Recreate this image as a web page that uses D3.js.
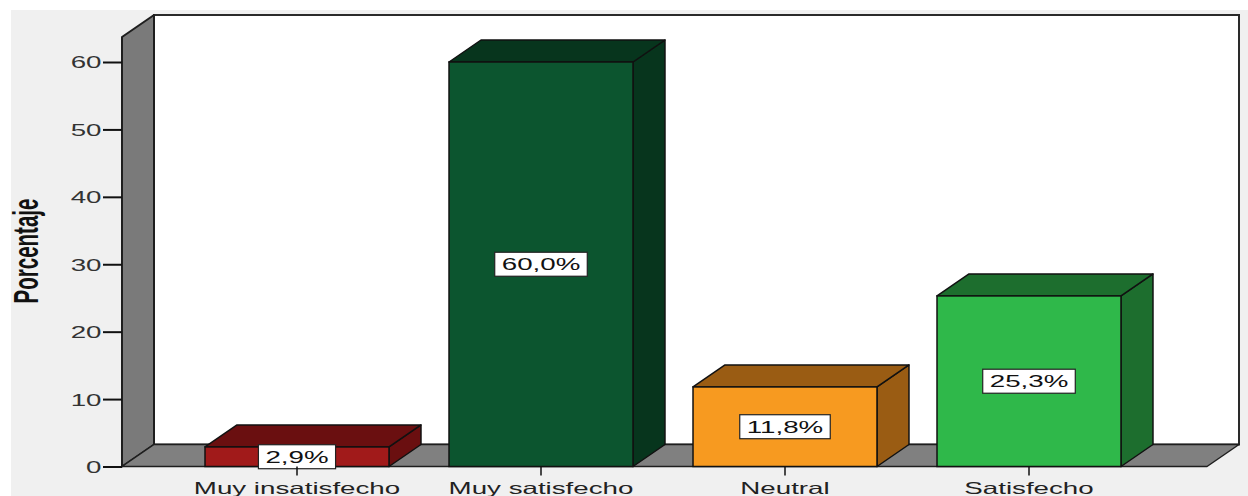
<!DOCTYPE html>
<html>
<head>
<meta charset="utf-8">
<script src="https://cdn.jsdelivr.net/npm/d3@7"></script>
<style>
html,body{margin:0;padding:0;background:#fff;}
svg{display:block;}
text{font-family:"Liberation Sans",Arial,sans-serif;}
</style>
</head>
<body>
<svg id="chart" width="1248" height="496"></svg>
<script>
const categories = ["Muy insatisfecho", "Muy satisfecho", "Neutral", "Satisfecho"];
const values = [2.9, 60.0, 11.8, 25.3];
const valueLabels = ["2,9%", "60,0%", "11,8%", "25,3%"];
const yTicks = [0, 10, 20, 30, 40, 50, 60];
const yTitle = "Porcentaje";
const frontColors = ["#a11a1a", "#0c552f", "#f79a20", "#2fb84a"];
const darkColors = ["#6a0f10", "#07351d", "#9a5c13", "#1d6e2e"];

const svg = d3.select("#chart");
const SX = 1.68;            // horizontal stretch of the original rendering
const DX = 32, DY = -22;    // 3D depth offset
const plotLeft = 122, plotRight = 1207, plotTopFront = 37;

const x = d3.scaleBand().domain(categories).range([175, 1151]).paddingInner(0.246).paddingOuter(0.123);
const y = d3.scaleLinear().domain([0, 60]).range([466.5, 62]);
const y0 = y(0);

// background
svg.append("rect").attr("x", 11).attr("y", 10).attr("width", 1237).attr("height", 486).attr("fill", "#f0f0f0");

// back wall
svg.append("rect")
  .attr("x", plotLeft + DX).attr("y", plotTopFront + DY)
  .attr("width", plotRight - plotLeft).attr("height", y0 - plotTopFront)
  .attr("fill", "#ffffff").attr("stroke", "#2a2a2a").attr("stroke-width", 2);

// left wall
svg.append("polygon")
  .attr("points", [[plotLeft, y0], [plotLeft, plotTopFront], [plotLeft + DX, plotTopFront + DY], [plotLeft + DX, y0 + DY]].map(p => p.join(",")).join(" "))
  .attr("fill", "#7a7a7a").attr("stroke", "#1e1e1e").attr("stroke-width", 2).attr("stroke-linejoin", "round");

// floor
svg.append("polygon")
  .attr("points", [[plotLeft, y0], [plotLeft + DX, y0 + DY], [plotRight + DX, y0 + DY], [plotRight, y0]].map(p => p.join(",")).join(" "))
  .attr("fill", "#808080").attr("stroke", "#1e1e1e").attr("stroke-width", 1.5).attr("stroke-linejoin", "round");

// bars
const bars = svg.append("g").selectAll("g").data(categories).join("g");
bars.each(function(c, i) {
  const g = d3.select(this);
  const x0 = x(c), w = x.bandwidth(), yt = y(values[i]);
  // side
  g.append("polygon")
    .attr("points", [[x0 + w, y0], [x0 + w, yt], [x0 + w + DX, yt + DY], [x0 + w + DX, y0 + DY]].map(p => p.join(",")).join(" "))
    .attr("fill", darkColors[i]).attr("stroke", "#111").attr("stroke-width", 1.5).attr("stroke-linejoin", "round");
  // top
  g.append("polygon")
    .attr("points", [[x0, yt], [x0 + DX, yt + DY], [x0 + w + DX, yt + DY], [x0 + w, yt]].map(p => p.join(",")).join(" "))
    .attr("fill", darkColors[i]).attr("stroke", "#111").attr("stroke-width", 1.5).attr("stroke-linejoin", "round");
  // front
  g.append("rect").attr("x", x0).attr("y", yt).attr("width", w).attr("height", y0 - yt)
    .attr("fill", frontColors[i]).attr("stroke", "#111").attr("stroke-width", 1.5);
});

// value labels
bars.each(function(c, i) {
  const g = d3.select(this);
  const cx = x(c) + x.bandwidth() / 2;
  const cy = (y(values[i]) + y0) / 2;
  const lg = g.append("g").attr("transform", `translate(${cx},${cy})`);
  const box = lg.append("rect");
  const t = lg.append("text").attr("transform", `scale(${SX},1)`)
    .attr("text-anchor", "middle").attr("dy", "0.36em")
    .attr("font-size", 16.5).attr("fill", "#111").text(valueLabels[i]);
  const bw = t.node().getComputedTextLength() * SX + 14;
  box.attr("x", -bw / 2).attr("y", -12).attr("width", bw).attr("height", 24)
    .attr("fill", "#fff").attr("stroke", "#222").attr("stroke-width", 1.2);
});

// y axis
const yAxis = svg.append("g").attr("transform", `translate(${plotLeft},0)`)
  .call(d3.axisLeft(y).tickValues(yTicks).tickSize(19).tickFormat(d3.format("d")));
yAxis.select(".domain").remove();
yAxis.selectAll(".tick line").attr("stroke", "#111").attr("stroke-width", 2);
yAxis.selectAll(".tick text")
  .attr("font-family", "'Liberation Sans',Arial,sans-serif")
  .attr("font-size", 16.5).attr("fill", "#333")
  .attr("x", -20.5 / SX).attr("dy", "0.36em")
  .attr("transform", `scale(${SX},1)`);

// x axis
const xAxis = svg.append("g").attr("transform", `translate(0,${y0})`)
  .call(d3.axisBottom(x).tickSize(9).tickPadding(0).tickSizeOuter(0));
xAxis.select(".domain").remove();
xAxis.selectAll(".tick line").attr("stroke", "#111").attr("stroke-width", 1.5);
xAxis.selectAll(".tick text")
  .attr("font-family", "'Liberation Sans',Arial,sans-serif")
  .attr("font-size", 16.5).attr("fill", "#222")
  .attr("y", 27.5).attr("dy", 0)
  .attr("transform", `scale(${SX},1)`);

// y title
svg.append("text")
  .attr("transform", `translate(38,251) scale(${SX},1) rotate(-90)`)
  .attr("text-anchor", "middle")
  .attr("font-size", 20.5).attr("font-weight", "bold").attr("fill", "#111")
  .text(yTitle);
</script>
</body>
</html>
